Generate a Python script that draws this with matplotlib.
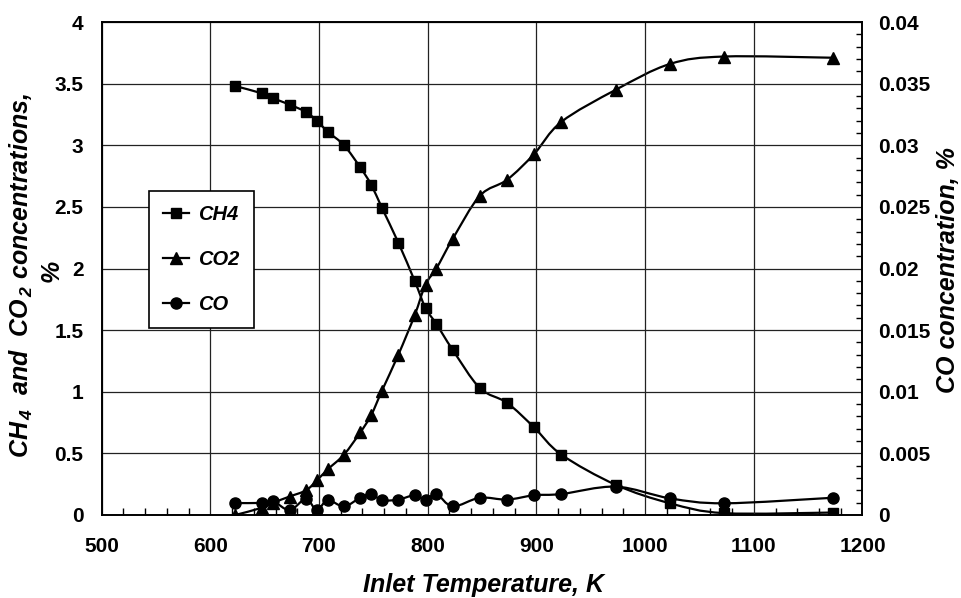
import numpy as np
import matplotlib.pyplot as plt
from matplotlib.path import Path
from matplotlib.patches import PathPatch
from matplotlib.lines import Line2D
from matplotlib.ticker import MultipleLocator, FormatStrFormatter

plt.rcParams['font.family'] = 'Liberation Sans'
plt.rcParams['font.weight'] = 'bold'
plt.rcParams['mathtext.fontset'] = 'custom'
plt.rcParams['mathtext.rm'] = 'Liberation Sans:bold:italic'
plt.rcParams['mathtext.it'] = 'Liberation Sans:bold:italic'
plt.rcParams['mathtext.bf'] = 'Liberation Sans:bold:italic'

# inlet temperature, K
temp = [623, 648, 658, 673, 688, 698, 708, 723, 738, 748, 758, 773,
        788, 798, 808, 823, 848, 873, 898, 923, 973, 1023, 1073, 1173]
# concentrations, %
ch4 = [3.48, 3.42, 3.38, 3.33, 3.27, 3.20, 3.11, 3.00, 2.82, 2.68, 2.49, 2.21,
       1.90, 1.68, 1.55, 1.34, 1.03, 0.91, 0.71, 0.49, 0.245, 0.095, 0.015, 0.02]
co2 = [0.0, 0.06, 0.10, 0.15, 0.20, 0.28, 0.37, 0.49, 0.67, 0.81, 1.01, 1.30,
       1.62, 1.87, 2.00, 2.24, 2.59, 2.72, 2.93, 3.19, 3.45, 3.66, 3.72, 3.71]
co = [0.00097, 0.00098, 0.0011, 0.0004, 0.0013, 0.0004, 0.0012, 0.0007,
      0.0014, 0.0017, 0.0012, 0.00125, 0.0016, 0.00125, 0.0017, 0.0007,
      0.0014, 0.00125, 0.0016, 0.0017, 0.0023, 0.00135, 0.00095, 0.0014]


def smooth_path(x, y):
    # Bezier curve through the points, like a spreadsheet "smoothed line"
    pts = np.column_stack([x, y]).astype(float)
    n = len(pts)
    verts = [pts[0]]
    codes = [Path.MOVETO]
    for i in range(n - 1):
        p0 = pts[i - 1] if i > 0 else pts[i]
        p1 = pts[i]
        p2 = pts[i + 1]
        p3 = pts[i + 2] if i + 2 < n else pts[i + 1]
        verts += [p1 + (p2 - p0) / 6, p2 - (p3 - p1) / 6, p2]
        codes += [Path.CURVE4] * 3
    return Path(verts, codes)


fig = plt.figure(figsize=(9.61, 5.98), dpi=100)
ax = fig.add_axes([0.1057, 0.1388, 0.7918, 0.8244])
ax2 = ax.twinx()

ax.set_xlim(500, 1200)
ax.set_ylim(0, 4)
ax2.set_ylim(0, 0.04)

ax.add_patch(PathPatch(smooth_path(temp, ch4), fill=False, color='black', lw=1.6))
ax.add_patch(PathPatch(smooth_path(temp, co2), fill=False, color='black', lw=1.6))
ax2.add_patch(PathPatch(smooth_path(temp, co), fill=False, color='black', lw=1.6))

ax.plot(temp, ch4, ls='none', marker='s', ms=7.5, color='black')
ax.plot(temp, co2, ls='none', marker='^', ms=8.5, color='black')
ax2.plot(temp, co, ls='none', marker='o', ms=8, color='black')

ax.xaxis.set_major_locator(MultipleLocator(100))
ax.xaxis.set_minor_locator(MultipleLocator(20))
ax.yaxis.set_major_locator(MultipleLocator(0.5))
ax.yaxis.set_major_formatter(FormatStrFormatter('%g'))
ax2.yaxis.set_major_locator(MultipleLocator(0.005))
ax2.yaxis.set_minor_locator(MultipleLocator(0.001))
ax2.yaxis.set_major_formatter(FormatStrFormatter('%g'))

ax.grid(True, which='major', color='#222222', lw=0.9)
ax.tick_params(axis='x', which='major', direction='in', length=0, pad=16, labelsize=15)
ax.tick_params(axis='x', which='minor', direction='in', length=5, width=1)
ax.tick_params(axis='y', which='major', direction='in', length=0, pad=13, labelsize=15)
ax2.tick_params(axis='y', which='major', direction='in', length=0, pad=11, labelsize=15)
ax2.tick_params(axis='y', which='minor', direction='in', length=4, width=1)
for a in (ax, ax2):
    for s in a.spines.values():
        s.set_color('black')
        s.set_linewidth(1.2)

label_font = dict(fontsize=18, fontweight='bold', fontstyle='italic')
fig.text(0.503, 0.01, 'Inlet Temperature, K', ha='center', va='baseline', **label_font)
fig.text(0.022, 0.54, '$\\mathregular{CH_{\\,4}}$  and  $\\mathregular{CO_{\\,2}}$ concentrations,',
         rotation=90, ha='center', va='center', **label_font)
fig.text(0.054, 0.547, '%', rotation=90, ha='center', va='center', **label_font)
fig.text(0.986, 0.548, 'CO concentration, %', rotation=90, ha='center', va='center', **label_font)

handles = [Line2D([], [], color='black', lw=1.6, marker='s', ms=7.5),
           Line2D([], [], color='black', lw=1.6, marker='^', ms=8.5),
           Line2D([], [], color='black', lw=1.6, marker='o', ms=8)]
leg = ax.legend(handles, ['CH4', 'CO2', 'CO'], loc='upper left',
                bbox_to_anchor=(0.155, 0.681), bbox_transform=fig.transFigure,
                borderaxespad=0, fancybox=False, framealpha=1, edgecolor='black',
                handlelength=1.3, labelspacing=1.3, borderpad=0.7, handletextpad=0.45,
                prop={'size': 14.5, 'weight': 'bold', 'style': 'italic'})
leg.get_frame().set_linewidth(1.2)
leg.set_zorder(5)

fig.savefig('out.png', dpi=100)
